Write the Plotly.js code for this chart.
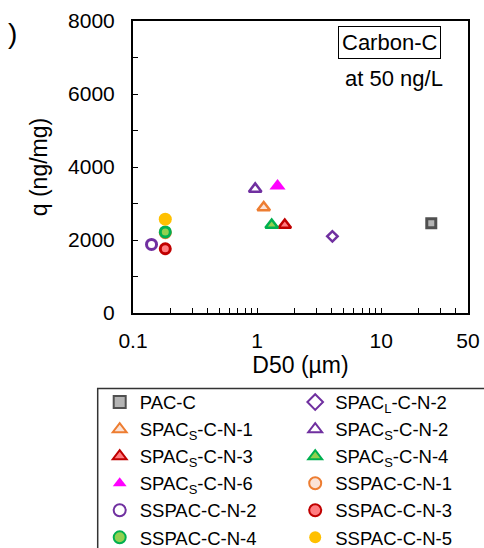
<!DOCTYPE html>
<html>
<head>
<meta charset="utf-8">
<script src="https://cdn.plot.ly/plotly-3.0.1.min.js"></script>
<style>html,body{margin:0;padding:0;background:#fff;}#chart{width:484px;height:548px;}</style>
</head>
<body>
<div id="chart"></div>
<script>
// Data
const names = ['PAC-C', 'SPAC<sub>L</sub>-C-N-2', 'SPAC<sub>S</sub>-C-N-1', 'SPAC<sub>S</sub>-C-N-2',
  'SPAC<sub>S</sub>-C-N-3', 'SPAC<sub>S</sub>-C-N-4', 'SPAC<sub>S</sub>-C-N-6', 'SSPAC-C-N-1',
  'SSPAC-C-N-2', 'SSPAC-C-N-3', 'SSPAC-C-N-4', 'SSPAC-C-N-5'];
const d50 = [25.3, 4.04, 1.13, 0.965, 1.67, 1.31, 1.46, 0.182, 0.141, 0.182, 0.182, 0.182];
const q   = [2460, 2100, 2890, 3400, 2410, 2410, 3480, 2200, 1880, 1760, 2220, 2570];

const symbols = ['square', 'diamond-open', 'triangle-up', 'triangle-up-open', 'triangle-up', 'triangle-up',
  'triangle-up', 'circle', 'circle-open', 'circle', 'circle', 'circle'];
const fills = ['#b4b4b4', '#7030a0', '#fbe2d5', '#7030a0', '#ff7c80', '#92d050', '#ff00ff', '#fbe2d5',
  '#7030a0', '#ff7c80', '#92d050', '#ffc000'];
const lines = ['#505050', '#7030a0', '#ed7d31', '#7030a0', '#c00000', '#00b050', '#ff00ff', '#ed7d31',
  '#7030a0', '#c00000', '#00b050', '#ffc000'];
const sizes = [9, 8, 11, 11, 11, 11, 14, 10, 10, 10, 10, 13];
const lineWidths = [3, 2.5, 2.5, 2.5, 2.5, 2.5, 0, 3, 3, 3, 3, 0];

const xTickVals = [0.1,0.2,0.3,0.4,0.5,0.6,0.7,0.8,0.9,1,2,3,4,5,6,7,8,9,10,20,30,40,50];
const xTickText = xTickVals.map(v => [0.1,1,10,50].includes(v) ? String(v) : '');
const yTickVals = [0,1000,2000,3000,4000,5000,6000,7000,8000];
const yTickText = yTickVals.map(v => v % 2000 === 0 ? String(v) : '');

const traces = names.map((n, i) => ({
  type: 'scatter', mode: 'markers', name: n,
  x: [d50[i]], y: [q[i]],
  legendrank: i + 1,
  marker: {
    symbol: symbols[i], size: sizes[i], color: fills[i],
    line: {color: lines[i], width: lineWidths[i]}
  }
}));
// SSPAC-C-N-1 is hidden under the other circles in the reference: draw it first
const order = [7, 0, 1, 2, 3, 4, 5, 6, 8, 9, 10, 11];
const data = order.map(i => traces[i]);

const W = 335, H = 292.6, L = 133.3, T = 20.7;
const px = x => (x - L) / W;
const py = y => (T + H - y) / H;

const layout = {
  width: 484, height: 548,
  margin: {l: 133, r: 16, t: 21, b: 235, autoexpand: false},
  paper_bgcolor: '#fff', plot_bgcolor: '#fff',
  font: {family: 'Liberation Sans, Arial, sans-serif', size: 21, color: '#000'},
  showlegend: true,
  xaxis: {
    type: 'log', range: [-1, Math.log10(50)],
    tickvals: xTickVals, ticktext: xTickText,
    ticks: 'inside', ticklen: 5, tickwidth: 1, tickcolor: '#000',
    showline: true, linecolor: '#000', linewidth: 2, mirror: true,
    showgrid: false, zeroline: false,
    ticklabelstandoff: 8,
    tickfont: {size: 21},
    title: {text: 'D50 (µm)', font: {size: 23}, standoff: 2},
    automargin: false
  },
  yaxis: {
    range: [0, 8000],
    tickvals: yTickVals, ticktext: yTickText,
    ticks: 'inside', ticklen: 5, tickwidth: 1, tickcolor: '#000',
    showline: true, linecolor: '#000', linewidth: 2, mirror: true,
    showgrid: false, zeroline: false,
    ticklabelstandoff: 12,
    tickfont: {size: 21},
    title: {text: 'q (ng/mg)', font: {size: 23}, standoff: 14},
    automargin: true
  },
  legend: {
    orientation: 'h', x: px(100), y: py(384), xanchor: 'left', yanchor: 'top',
    entrywidth: 150.5, entrywidthmode: 'pixels', itemsizing: 'constant',
    font: {size: 18.5}, bgcolor: 'rgba(0,0,0,0)', borderwidth: 0,
    traceorder: 'normal', itemclick: false
  },
  shapes: [{
    type: 'rect', xref: 'paper', yref: 'paper',
    x0: px(98), x1: px(492), y0: py(389), y1: py(560),
    line: {color: '#333', width: 1.5}, fillcolor: 'rgba(0,0,0,0)'
  }],
  annotations: [
    {xref: 'paper', yref: 'paper', x: px(390), y: py(42), text: 'Carbon-C', showarrow: false,
     font: {size: 22}, bordercolor: '#000', borderwidth: 1, borderpad: 3, xanchor: 'center', yanchor: 'middle'},
    {xref: 'paper', yref: 'paper', x: px(394), y: py(78), text: 'at 50 ng/L', showarrow: false,
     font: {size: 22}, xanchor: 'center', yanchor: 'middle'},
    {xref: 'paper', yref: 'paper', x: px(13), y: py(33), text: ')', showarrow: false,
     font: {size: 28}, xanchor: 'center', yanchor: 'middle'}
  ]
};

Plotly.newPlot('chart', data, layout, {displayModeBar: false, staticPlot: true});
</script>
</body>
</html>
